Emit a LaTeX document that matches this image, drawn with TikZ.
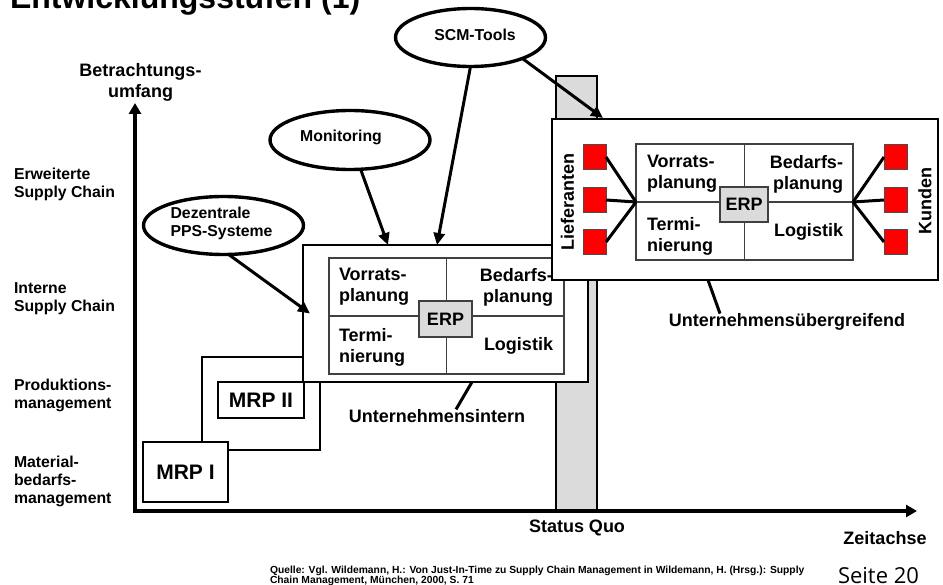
\documentclass[tikz,border=0pt]{standalone}
\usepackage{fontspec}
\setmainfont{Liberation Sans}
\newfontfamily\pagefont{Open Sans}
\usetikzlibrary{shapes.geometric,arrows.meta,calc}

\begin{document}
\begin{tikzpicture}[x=1pt,y=-1pt,
  every node/.style={inner sep=0pt, outer sep=0pt, font=\bfseries},
  big/.style={font=\bfseries\fontsize{18}{21}\selectfont},
  small/.style={font=\bfseries\fontsize{15.8}{18}\selectfont},
  framebox/.style={rectangle, draw, line width=1.2pt, fill=white},
  stagebox/.style={framebox, font=\bfseries\fontsize{21}{24}\selectfont},
  grid/.style={rectangle, draw=black!75, line width=1.3pt},
  gridline/.style={draw=black!75, line width=1.3pt},
  erpbox/.style={rectangle, draw=black!75, fill=black!14, line width=1.2pt, big},
  celltext/.style={big, align=left},
  bubble/.style={ellipse, draw, line width=3.4pt, fill=white},
  bubbletext/.style={small, align=left},
  pointer/.style={line width=3pt, -{Triangle[length=12pt,width=11pt]}},
  axis/.style={line width=3.5pt, line join=miter, {Triangle[length=11pt,width=12pt]}-{Triangle[length=11pt,width=12pt]}},
  spoke/.style={line width=3pt},
  redsq/.style={rectangle, draw=black!70, fill=red, line width=1pt, minimum width=23pt, minimum height=25pt},
  scope label/.style={small, align=left, anchor=north west}
]
\useasboundingbox (0,0) rectangle (943,585);

% heading
\node[anchor=base west, font=\bfseries\fontsize{32}{36}\selectfont] (title) at (10,9) {Entwicklungsstufen (1)};

% status quo column
\node[rectangle, draw, line width=1.1pt, fill=black!14, minimum width=41pt, minimum height=435pt] (bar) at (576.5,293.5) {};

% stages
\node[framebox, minimum width=118pt, minimum height=93pt] (prod) at (261,403.5) {};
\node[stagebox, minimum width=85pt, minimum height=60pt] (mrp1) at (185.5,472) {MRP I};
\node[stagebox, minimum width=86pt, minimum height=36pt] (mrp2) at (261,400) {MRP II};

% company-internal ERP stage
\node[framebox, minimum width=285pt, minimum height=137pt] (intern) at (445.5,313.5) {};
\node[grid, minimum width=235pt, minimum height=116pt] (imat) at (446.5,316) {};
\draw[gridline] (imat.north) -- (imat.south);
\draw[gridline] (imat.west) -- (imat.east);
\node[celltext, anchor=north west] (iv) at (339,268) {Vorrats-\\planung};
\node[celltext, anchor=north east, align=right] (ib) at (553,268) {Bedarfs-\\planung};
\node[celltext, anchor=north west] (it) at (339,328) {Termi-\\nierung};
\node[celltext, anchor=east] (il) at (553,346) {Logistik};
\node[erpbox, minimum width=53pt, minimum height=36pt] (ierp) at (445.5,319) {ERP};

% cross-company stage
\node[framebox, minimum width=386pt, minimum height=161pt] (ext) at (745,199.5) {};
\node[grid, minimum width=217pt, minimum height=116pt] (emat) at (744.5,202) {};
\draw[gridline] (emat.north) -- (emat.south);
\draw[gridline] (emat.west) -- (emat.east);
\node[celltext, anchor=north west] (ev) at (647,155) {Vorrats-\\planung};
\node[celltext, anchor=north east, align=right] (eb) at (843,155) {Bedarfs-\\planung};
\node[celltext, anchor=north west] (et) at (647,217) {Termi-\\nierung};
\node[celltext, anchor=east] (el) at (843,232) {Logistik};
\node[erpbox, minimum width=48pt, minimum height=35pt] (eerp) at (744,204.5) {ERP};

\node[redsq] (sl1) at (594.5,157) {};
\node[redsq] (sl2) at (594.5,200) {};
\node[redsq] (sl3) at (594.5,242) {};
\node[redsq] (sr1) at (895.5,157) {};
\node[redsq] (sr2) at (895.5,200) {};
\node[redsq] (sr3) at (895.5,242) {};
\draw[spoke] (emat.west) -- (sl1.east);
\draw[spoke] (emat.west) -- (sl2.east);
\draw[spoke] (emat.west) -- (sl3.east);
\draw[spoke] (emat.east) -- (sr1.west);
\draw[spoke] (emat.east) -- (sr2.west);
\draw[spoke] (emat.east) -- (sr3.west);
\node[big, rotate=90] (lief) at (567.5,202) {Lieferanten};
\node[big, rotate=90] (kund) at (925,201) {Kunden};

% stage captions
\node[big] (lblint) at (437,416) {Unternehmensintern};
\node[big] (lblext) at (787,322) {Unternehmensübergreifend};
\draw[spoke] ($(intern.south)+(26.5,0)$) -- ($(lblint.north)+(19,0)$);
\draw[spoke] ($(ext.south)+(-37,0)$) -- ($(lblext.north)+(-67,0)$);

% axes
\coordinate (O) at (135,511);
\coordinate (ytip) at (135,103);
\coordinate (xtip) at (917,511);
\draw[axis] (ytip) -- (O) -- (xtip);
\node[big, anchor=north, align=center] (ylab) at (140.5,63) {Betrachtungs-\\umfang};
\node[big] (xlab) at (885,538.5) {Zeitachse};
\node[big] (sqlab) at (577,528) {Status Quo};

\node[scope label] (lab1) at (14,168) {Erweiterte\\Supply Chain};
\node[scope label] (lab2) at (14,283) {Interne\\Supply Chain};
\node[scope label] (lab3) at (14,379) {Produktions-\\management};
\node[scope label] (lab4) at (14,456) {Material-\\bedarfs-\\management};

% tool bubbles
\node[bubble, minimum width=150pt, minimum height=58pt,
      label={[bubbletext, xshift=4.5pt, yshift=2.5pt]center:SCM-Tools}] (scm) at (470.5,37.5) {};
\node[bubble, minimum width=160pt, minimum height=59pt,
      label={[bubbletext, xshift=-9pt, yshift=3pt]center:Monitoring}] (mon) at (350,140) {};
\node[bubble, minimum width=160pt, minimum height=58pt,
      label={[bubbletext, xshift=-2pt, yshift=2.5pt]center:Dezentrale\\PPS-Systeme}] (dez) at (223.5,225.5) {};

\draw[pointer] (mon) -- ($(intern.north)+(-57.5,0)$);
\draw[pointer] (dez.-80) -- ($(intern.west)+(7,0)$);
\draw[pointer] (scm.south) -- ($(intern.north)+(-8.5,0)$);
\draw[pointer] (scm.-22) -- ($(ext.north west)+(51,-1)$);

% source line and page number
\node[anchor=north west, align=left, font=\bfseries\fontsize{10.3}{10.5}\selectfont] (src) at (270,566) {Quelle: Vgl. Wildemann, H.: Von Just-In-Time zu Supply Chain Management in Wildemann, H. (Hrsg.): Supply\\Chain Management, München, 2000, S. 71};
\node[anchor=base west, font=\pagefont\fontsize{22}{24}\selectfont] (page) at (838,583) {Seite 20};
\end{tikzpicture}
\end{document}
